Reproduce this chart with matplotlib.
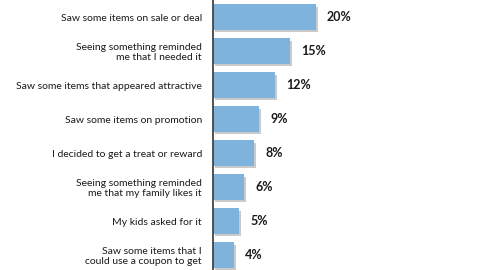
import matplotlib.pyplot as plt
import matplotlib.patheffects as pe

## ------------------------------------------------- DATA -------------------------------------------------
labels = [
    "Saw some items on sale or deal",
    "Seeing something reminded\nme that I needed it",
    "Saw some items that appeared attractive",
    "Saw some items on promotion",
    "I decided to get a treat or reward",
    "Seeing something reminded\nme that my family likes it",
    "My kids asked for it",
    "Saw some items that I\ncould use a coupon to get",
]
values = [20, 15, 12, 9, 8, 6, 5, 4]

BAR_COLOR = "#7db3dc"
TEXT_COLOR = "#1a1a1a"

## ------------------------------------------------- FIGURE -------------------------------------------------
plt.rcParams["font.family"] = ["Lato", "DejaVu Sans"]

fig = plt.figure(figsize=(4.8, 2.7), dpi=100)
ax = fig.add_axes([0.444, 0.0, 0.556, 1.0])

ypos = list(range(len(values)))
bars = ax.barh(ypos, values, height=0.74, color=BAR_COLOR, zorder=2)
for b in bars:
    b.set_path_effects([
        pe.SimplePatchShadow(offset=(1.5, -1.5), shadow_rgbFace="#8a8a8a", alpha=0.45),
        pe.Normal(),
    ])

for y, v in zip(ypos, values):
    ax.text(v + 2.2, y, f"{v}%", va="center", ha="left", fontsize=9,
            fontweight="bold", color=TEXT_COLOR)

ax.set_xlim(0, 52)
ax.set_ylim(7.44, -0.5)
ax.set_yticks(ypos)
ax.set_yticklabels(labels, fontsize=7.5, color=TEXT_COLOR, linespacing=1.2)
ax.tick_params(axis="y", length=0, pad=8)
ax.set_xticks([])

for side in ["top", "right", "bottom"]:
    ax.spines[side].set_visible(False)
ax.spines["left"].set_color("#444444")
ax.spines["left"].set_linewidth(1.3)

fig.savefig("out.png", dpi=100)
